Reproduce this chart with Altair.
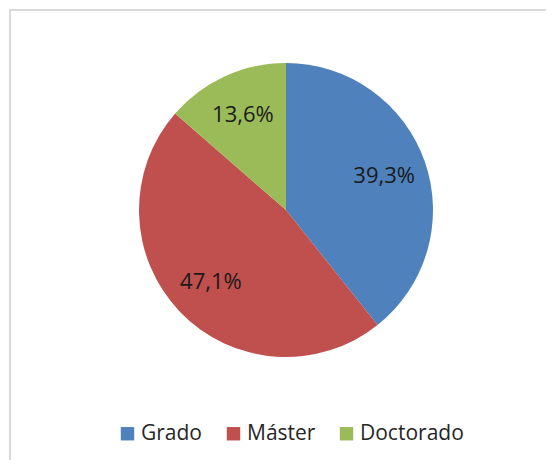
import altair as alt
import pandas as pd

categories = ["Grado", "Máster", "Doctorado"]
values = [39.3, 47.1, 13.6]
labels = ["39,3%", "47,1%", "13,6%"]
colors = ["#4f81bd", "#c0504d", "#9bbb59"]
order = [0, 1, 2]

df = pd.DataFrame({"cat": categories, "val": values, "label": labels, "ord": order})

CX, CY = 278, 202

pie = alt.Chart(df).mark_arc(outerRadius=147).encode(
    theta=alt.Theta("val:Q", stack=True),
    order=alt.Order("ord:Q"),
    x=alt.value(CX),
    y=alt.value(CY),
    color=alt.Color(
        "cat:N",
        scale=alt.Scale(domain=categories, range=colors),
        legend=alt.Legend(
            title=None,
            orient="none",
            legendX=109,
            legendY=415,
            direction="horizontal",
            symbolType="square",
            symbolSize=180,
            symbolStrokeWidth=0,
            labelFontSize=21,
            labelFont="Open Sans",
            labelColor="#262626",
            labelOffset=3,
            columnPadding=20,
        ),
    ),
)

text = alt.Chart(df).mark_text(
    radius=104, fontSize=22, font="Open Sans", color="#1a1a1a"
).encode(
    theta=alt.Theta("val:Q", stack=True),
    order=alt.Order("ord:Q"),
    detail="cat:N",
    x=alt.value(CX),
    y=alt.value(CY),
    text="label:N",
)

frame_data = alt.Data(values=[{"a": 1}])
hline = alt.Chart(frame_data).mark_rule(color="#d9d9d9", strokeWidth=2).encode(
    x=alt.value(1), x2=alt.value(538), y=alt.value(2), y2=alt.value(2)
)
vline = alt.Chart(frame_data).mark_rule(color="#d9d9d9", strokeWidth=2).encode(
    x=alt.value(2), x2=alt.value(2), y=alt.value(1), y2=alt.value(452)
)

chart = alt.layer(hline, vline, pie, text).properties(
    width=538, height=452, padding=0,
    autosize=alt.AutoSizeParams(type="none"),
).configure_view(stroke=None)

chart.save("out.html", embed_options={"renderer": "svg", "actions": False})
